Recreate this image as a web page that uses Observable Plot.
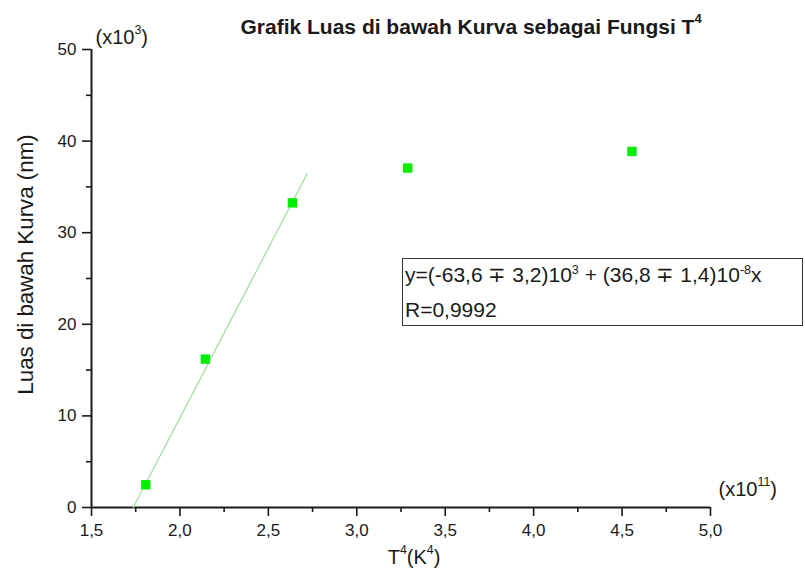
<!DOCTYPE html>
<html>
<head>
<meta charset="utf-8">
<script src="https://cdn.jsdelivr.net/npm/d3@7"></script>
<script src="https://cdn.jsdelivr.net/npm/@observablehq/plot@0.6"></script>
<style>
  body { margin: 0; background: #fff; }
  #wrap { position: relative; width: 805px; height: 585px; font-family: "Liberation Sans", Arial, sans-serif; }
  #box { position: absolute; left: 402px; top: 258px; width: 399px; height: 66px; border: 1px solid #333; background: #fff; color: #1a1a1a; font-size: 21px; }
  #box .ln { position: absolute; left: 2px; line-height: 21px; white-space: nowrap; }
  #box sup { font-size: 0.6em; vertical-align: 0.62em; line-height: 0; }
</style>
</head>
<body>
<div id="wrap">
  <div id="chart"></div>
  <div id="box">
    <div class="ln" style="top:5px">y=(-63,6 &#8723; 3,2)10<sup>3</sup> + (36,8 &#8723; 1,4)10<sup>-8</sup>x</div>
    <div class="ln" style="top:40px">R=0,9992</div>
  </div>
</div>
<script>
// Data (x in units of 10^11 K^4, y in units of 10^3 nm)
const pointX = [1.807, 2.144, 2.636, 3.288, 4.556];
const pointY = [2.48, 16.2, 33.26, 37.06, 38.87];
// Linear-fit segment endpoints as drawn in the reference
const fitX = [1.736, 2.719];
const fitY = [0, 36.43];
// Ticks
const xMajor = [1.5, 2.0, 2.5, 3.0, 3.5, 4.0, 4.5, 5.0];
const xMinor = [1.75, 2.25, 2.75, 3.25, 3.75, 4.25, 4.75];
const yMajor = [0, 10, 20, 30, 40, 50];
const yMinor = [5, 15, 25, 35, 45];
// Texts
const titleText = "Grafik Luas di bawah Kurva sebagai Fungsi T^{4}";
const xLabel = "T^{4}(K^{4})";
const yLabel = "Luas di bawah Kurva (nm)";
const xMult = "(x10^{11})";
const yMult = "(x10^{3})";

const points = pointX.map((x, i) => ({x, y: pointY[i]}));
const fit = fitX.map((x, i) => ({x, y: fitY[i]}));
const comma = d => d.toFixed(1).replace(".", ",");
const ink = "#1a1a1a";
const font = "Liberation Sans, Arial, sans-serif";

const chart = Plot.plot({
  width: 805,
  height: 585,
  marginLeft: 91,
  marginRight: 95,
  marginTop: 49,
  marginBottom: 78,
  style: {fontFamily: font, fontSize: "17px", color: ink, background: "#fff"},
  x: {domain: [xMajor[0], xMajor[xMajor.length - 1]]},
  y: {domain: [yMajor[0], yMajor[yMajor.length - 1]]},
  marks: [
    Plot.axisX(xMajor, {tickSize: 9, tickPadding: 7, tickFormat: comma, stroke: ink, strokeWidth: 1.6, fontSize: 17, label: null, fill: ink}),
    Plot.axisX(xMinor, {tickSize: 5, tickFormat: () => "", stroke: ink, strokeWidth: 1.6, label: null}),
    Plot.axisY(yMajor, {tickSize: 9, tickPadding: 6, tickFormat: d => String(d), stroke: ink, strokeWidth: 1.6, fontSize: 17, label: null, fill: ink}),
    Plot.axisY(yMinor, {tickSize: 5, tickFormat: () => "", stroke: ink, strokeWidth: 1.6, label: null}),
    Plot.ruleX([xMajor[0]], {stroke: ink, strokeWidth: 2}),
    Plot.ruleY([yMajor[0]], {stroke: ink, strokeWidth: 2}),
    Plot.line(fit, {x: "x", y: "y", stroke: "#9ddd9d", strokeWidth: 1.2}),
    Plot.dot(points, {x: "x", y: "y", symbol: "square", r: 5.3, fill: "#00ee00", stroke: "none"}),
    Plot.text([titleText], {frameAnchor: "top-left", dx: 149, dy: -16, textAnchor: "start", lineAnchor: "bottom", fontSize: 21, fontWeight: "bold", fill: ink}),
    Plot.text([yMult], {frameAnchor: "top-left", dx: 4, dy: -6, textAnchor: "start", lineAnchor: "bottom", fontSize: 20, fill: ink}),
    Plot.text([xMult], {frameAnchor: "bottom-right", dx: 8, dy: -12, textAnchor: "start", lineAnchor: "bottom", fontSize: 20, fill: ink}),
    Plot.text([xLabel], {frameAnchor: "bottom", dx: 13, dy: 56, textAnchor: "middle", lineAnchor: "bottom", fontSize: 20, fill: ink}),
    Plot.text([yLabel], {frameAnchor: "left", dx: -59, dy: -14, rotate: -90, textAnchor: "middle", lineAnchor: "bottom", fontSize: 22.3, fill: ink})
  ]
});

// Turn ^{...} markers into superscript tspans (text stays real text)
function supify(root) {
  const NS = "http://www.w3.org/2000/svg";
  const size = 0.62, rise = 0.48;
  root.querySelectorAll("text, tspan").forEach(el => {
    if (el.children.length) return;
    const s = el.textContent;
    if (!s.includes("^{")) return;
    const parts = s.split(/(\^\{[^}]*\})/).filter(p => p !== "");
    el.textContent = "";
    let raised = false;
    for (const p of parts) {
      const m = p.match(/^\^\{(.*)\}$/);
      const t = document.createElementNS(NS, "tspan");
      if (m) {
        t.textContent = m[1];
        t.setAttribute("font-size", size + "em");
        t.setAttribute("dy", (-rise / size).toFixed(3) + "em");
        raised = true;
      } else {
        t.textContent = p;
        if (raised) t.setAttribute("dy", rise + "em");
        raised = false;
      }
      el.appendChild(t);
    }
  });
}
supify(chart);
document.getElementById("chart").appendChild(chart);
</script>
</body>
</html>
